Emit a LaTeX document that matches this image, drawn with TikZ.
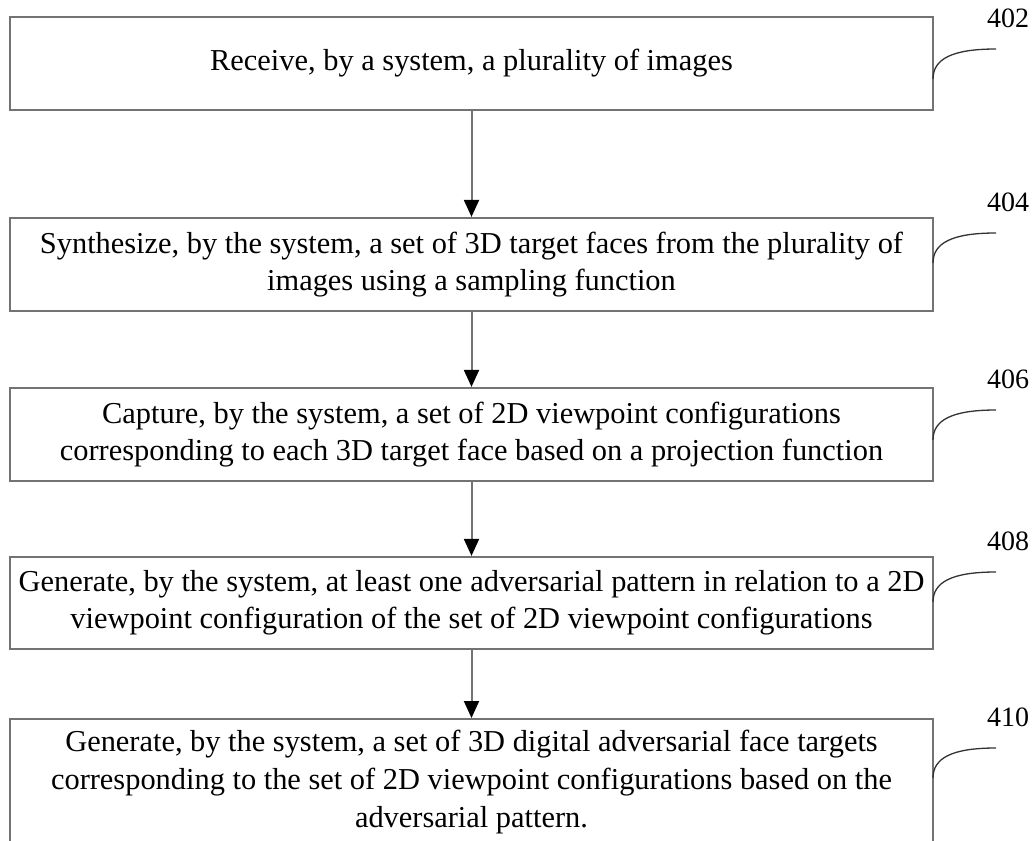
\documentclass[tikz,border=0pt]{standalone}
\usepackage{fontspec}
\setmainfont{Liberation Serif}
\usetikzlibrary{arrows.meta}
\begin{document}
\begin{tikzpicture}[x=1bp,y=-1bp,
  stepbox/.style={draw=black!55,line width=2.2bp,minimum width=923bp,
    align=center,inner sep=0pt,font=\fontsize{30.4bp}{37bp}\selectfont},
  flow/.style={draw=black!55,line width=2bp,
    -{Triangle[length=17bp,width=15bp,color=black]}},
  leader/.style={draw=black!80,line width=1.3bp},
  ref/.style={font=\fontsize{28bp}{30bp}\selectfont,inner sep=0pt}]
\useasboundingbox (0,0) rectangle (1036,841);
\clip (0,0) rectangle (1036,841);
\fill[white] (0,0) rectangle (1036,841);

% process steps
\node[stepbox,minimum height=93bp] (s1) at (471.5,63.5)
  {Receive, by a system, a plurality of images};
\node[stepbox,minimum height=93bp] (s2) at (471.5,264.5)
  {Synthesize, by the system, a set of 3D target faces from the plurality of\\
   images using a sampling function};
\node[stepbox,minimum height=93bp] (s3) at (471.5,434.5)
  {Capture, by the system, a set of 2D viewpoint configurations\\
   corresponding to each 3D target face based on a projection function};
\node[stepbox,minimum height=92bp] (s4) at (471.5,603)
  {Generate, by the system, at least one adversarial pattern in relation to a 2D\\
   viewpoint configuration of the set of 2D viewpoint configurations};
\node[stepbox,minimum height=140bp,anchor=north] (s5) at (471.5,718)
  {};
\node[font=\fontsize{30.4bp}{38bp}\selectfont,align=center,inner sep=0pt] (t5) at (471.5,782.5)
  {Generate, by the system, a set of 3D digital adversarial face targets\\
   corresponding to the set of 2D viewpoint configurations based on the\\
   adversarial pattern.};

% arrows between steps
\draw[flow] (s1.south) -- (s2.north);
\draw[flow] (s2.south) -- (s3.north);
\draw[flow] (s3.south) -- (s4.north);
\draw[flow] (s4.south) -- (s5.north);

% reference numerals with leader curves
\foreach \n/\ys in {402/79, 404/263, 406/440, 408/602, 410/778}{
  \coordinate (a\n) at (933,\ys);
  \coordinate (b\n) at (996,\ys-30);
  \draw[leader] (a\n) .. controls (933,\ys-20) and (952,\ys-30) .. (b\n);
  \node[ref] (r\n) at (1008,\ys-61) {\n};
}
\end{tikzpicture}
\end{document}
